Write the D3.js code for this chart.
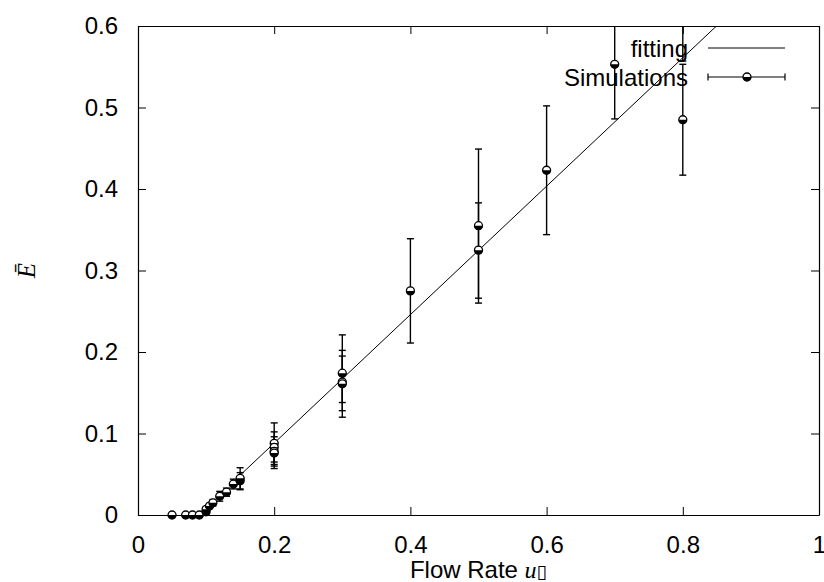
<!DOCTYPE html>
<html>
<head>
<meta charset="utf-8">
<script src="https://cdn.jsdelivr.net/npm/d3@7"></script>
<style>
  body { margin: 0; background: #fff; }
  text { font-family: "Liberation Sans", Arial, Helvetica, sans-serif; }
</style>
</head>
<body>
<svg id="graph" width="824" height="582"></svg>
<script>
// simulation points: x, y, low and high end of the error bar
var simX    = [0.05, 0.07, 0.08, 0.09, 0.10, 0.10, 0.105, 0.11, 0.12, 0.13, 0.14, 0.15, 0.15,
               0.2, 0.2, 0.2, 0.2, 0.3, 0.3, 0.3, 0.4, 0.5, 0.5, 0.6, 0.7, 0.8, 0.8];
var simY    = [0, 0, 0, 0, 0.004, 0.007, 0.011, 0.015, 0.023, 0.028, 0.038, 0.042, 0.045,
               0.088, 0.083, 0.078, 0.076, 0.174, 0.163, 0.161, 0.275, 0.355, 0.325, 0.423, 0.553, 0.485, 0.64];
var simLow  = [0, 0, 0, 0, 0.002, 0.004, 0.008, 0.011, 0.017, 0.023, 0.032, 0.032, 0.031,
               0.065, 0.060, 0.057, 0.062, 0.120, 0.128, 0.138, 0.211, 0.260, 0.266, 0.344, 0.486, 0.417, 0.557];
var simHigh = [0, 0, 0, 0, 0.006, 0.010, 0.014, 0.019, 0.029, 0.033, 0.044, 0.052, 0.058,
               0.113, 0.102, 0.096, 0.090, 0.221, 0.202, 0.195, 0.339, 0.449, 0.383, 0.502, 0.621, 0.553, 0.723];

// linear fit  E = slope * (u - u0), drawn from fitStart on
var fitSlope = 0.788;
var fitU0 = 0.088;
var fitStart = 0.15, fitEnd = 1.0;

var xTicks = [0, 0.2, 0.4, 0.6, 0.8, 1];
var yTicks = [0, 0.1, 0.2, 0.3, 0.4, 0.5, 0.6];

var legendLabels = ["fitting", "Simulations"];

var svg = d3.select("#graph");
var x = d3.scaleLinear().domain([0, 1]).range([138, 819]);
var y = d3.scaleLinear().domain([0, 0.6]).range([515, 26]);
var fs = "24px";

svg.append("clipPath").attr("id", "plotclip")
  .append("rect")
  .attr("x", x(0)).attr("y", y(0.6))
  .attr("width", x(1) - x(0)).attr("height", y(0) - y(0.6));

function styleAxis(g) {
  g.select(".domain").attr("stroke", "#000").attr("stroke-width", 1.2);
  g.selectAll(".tick line").attr("stroke", "#000").attr("stroke-width", 1);
  g.selectAll("text").attr("fill", "#000").style("font-size", fs)
    .style("font-family", "'Liberation Sans', Arial, sans-serif");
}

// axes, ticks pointing inward and mirrored on top / right
svg.append("g").attr("transform", "translate(0," + y(0) + ")")
  .call(d3.axisBottom(x).tickValues(xTicks).tickSize(-8).tickSizeOuter(0).tickPadding(21)
    .tickFormat(function(d){ return String(d); }))
  .call(styleAxis);
svg.append("g").attr("transform", "translate(0," + y(0.6) + ")")
  .call(d3.axisTop(x).tickValues(xTicks).tickSize(-8).tickSizeOuter(0).tickFormat(""))
  .call(styleAxis);
svg.append("g").attr("transform", "translate(" + x(0) + ",0)")
  .call(d3.axisLeft(y).tickValues(yTicks).tickSize(-8).tickSizeOuter(0).tickPadding(20)
    .tickFormat(function(d){ return String(d); }))
  .call(styleAxis);
svg.append("g").attr("transform", "translate(" + x(1) + ",0)")
  .call(d3.axisRight(y).tickValues(yTicks).tickSize(-8).tickSizeOuter(0).tickFormat(""))
  .call(styleAxis);

// axis titles
var xl = svg.append("text")
  .attr("x", (x(0) + x(1)) / 2).attr("y", 578)
  .attr("text-anchor", "middle")
  .style("font-size", fs);
xl.append("tspan").text("Flow Rate ");
xl.append("tspan").text("u").style("font-family", "'Liberation Serif', serif").style("font-style", "italic");
xl.append("tspan").text("\u25AF").style("font-size", "19px").style("font-family", "'DejaVu Sans', sans-serif");

svg.append("text")
  .attr("transform", "translate(35," + ((y(0) + y(0.6)) / 2) + ") rotate(-90)")
  .attr("text-anchor", "middle")
  .style("font-family", "'Liberation Serif', serif")
  .style("font-style", "italic")
  .style("font-size", "25px")
  .text("\u0112");

var plot = svg.append("g").attr("clip-path", "url(#plotclip)");

// fit line
var line = d3.line().x(function(d){ return x(d); }).y(function(d){ return y(fitSlope * (d - fitU0)); });
plot.append("path")
  .datum([fitStart, fitEnd])
  .attr("d", line)
  .attr("fill", "none").attr("stroke", "#000").attr("stroke-width", 1);

// error bars
var cap = 3.5;
simX.forEach(function(xv, i){
  if (simHigh[i] - simLow[i] <= 0) return;
  var px = x(xv);
  plot.append("line").attr("x1", px).attr("x2", px)
    .attr("y1", y(simLow[i])).attr("y2", y(simHigh[i]))
    .attr("stroke", "#000").attr("stroke-width", 1.4);
  [simLow[i], simHigh[i]].forEach(function(v){
    plot.append("line").attr("x1", px - cap).attr("x2", px + cap)
      .attr("y1", y(v)).attr("y2", y(v))
      .attr("stroke", "#000").attr("stroke-width", 1.4);
  });
});

// half filled circle marker
function marker(g, cx, cy) {
  var r = 4;
  g.append("circle").attr("cx", cx).attr("cy", cy).attr("r", r)
    .attr("fill", "#fff").attr("stroke", "#000").attr("stroke-width", 1.3);
  g.append("path")
    .attr("d", "M" + (cx - r) + "," + cy + " A" + r + "," + r + " 0 0,0 " + (cx + r) + "," + cy + " Z")
    .attr("fill", "#000");
}

simX.forEach(function(xv, i){
  if (simY[i] > 0.6) return;
  marker(svg, x(xv), y(simY[i]));
});

// legend
var legendRows = [48, 77];
legendLabels.forEach(function(lbl, i){
  svg.append("text")
    .attr("x", 688).attr("y", legendRows[i] + 8.5)
    .attr("text-anchor", "end")
    .style("font-size", fs)
    .text(lbl);
});
svg.append("line").attr("x1", 708).attr("x2", 785)
  .attr("y1", legendRows[0]).attr("y2", legendRows[0])
  .attr("stroke", "#000").attr("stroke-width", 1);
svg.append("line").attr("x1", 708).attr("x2", 785)
  .attr("y1", legendRows[1]).attr("y2", legendRows[1])
  .attr("stroke", "#000").attr("stroke-width", 1.2);
[708, 785].forEach(function(px){
  svg.append("line").attr("x1", px).attr("x2", px)
    .attr("y1", legendRows[1] - cap).attr("y2", legendRows[1] + cap)
    .attr("stroke", "#000").attr("stroke-width", 1.2);
});
marker(svg, 747, legendRows[1]);
</script>
</body>
</html>
